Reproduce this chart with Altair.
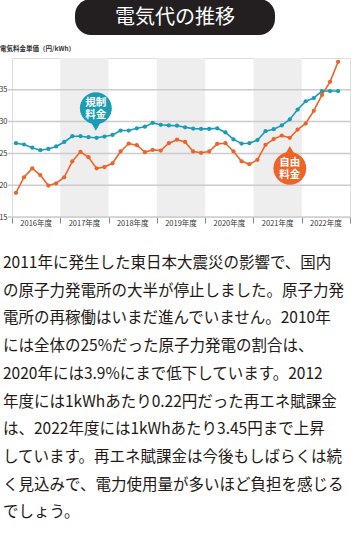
import altair as alt
import pandas as pd

# ---- data ----
months = [
    "2016-05-01", "2016-07-01", "2016-09-01", "2016-11-01", "2017-01-01", "2017-03-01",
    "2017-05-01", "2017-07-01", "2017-09-01", "2017-11-01", "2018-01-01", "2018-03-01",
    "2018-05-01", "2018-07-01", "2018-09-01", "2018-11-01", "2019-01-01", "2019-03-01",
    "2019-05-01", "2019-07-01", "2019-09-01", "2019-11-01", "2020-01-01", "2020-03-01",
    "2020-05-01", "2020-07-01", "2020-09-01", "2020-11-01", "2021-01-01", "2021-03-01",
    "2021-05-01", "2021-07-01", "2021-09-01", "2021-11-01", "2022-01-01", "2022-03-01",
    "2022-05-01", "2022-07-01", "2022-09-01", "2022-11-01", "2023-01-01",
]
regulated = [26.6, 26.4, 25.9, 25.5, 25.7, 26.1, 26.8, 27.7, 27.7, 27.55, 27.45, 27.65,
             27.9, 28.6, 28.6, 28.95, 29.2, 29.8, 29.5, 29.4, 29.35, 29.1, 28.9, 28.85,
             28.85, 28.95, 28.3, 27.2, 26.55, 26.6, 27.1, 28.5, 28.8, 29.4, 30.35, 31.9,
             33.2, 33.7, 34.8, 34.8, 34.8]
free = [18.8, 21.25, 22.65, 21.6, 19.95, 20.3, 21.25, 23.75, 25.25, 24.4, 22.65, 22.85,
        23.45, 25.3, 26.55, 26.3, 25.2, 25.55, 25.45, 26.6, 27.15, 26.8, 25.3, 25.1,
        25.3, 26.5, 26.6, 25.3, 23.75, 23.3, 24.0, 26.35, 27.25, 27.8, 27.45, 28.75,
        29.7, 31.7, 34.2, 36.25, 39.4]
series_names = ["規制料金", "自由料金"]
colors = ["#1a9cb4", "#ec6428"]

year_labels = ["2016年度", "2017年度", "2018年度", "2019年度", "2020年度", "2021年度", "2022年度"]
year_mids = ["2016-10-01", "2017-10-01", "2018-10-01", "2019-10-01", "2020-10-01", "2021-10-01", "2022-10-01"]
band_starts = ["2017-04-01", "2019-04-01", "2021-04-01"]
band_ends = ["2018-04-01", "2020-04-01", "2022-04-01"]
y_ticks = [15, 20, 25, 30, 35]

title_text = "電気代の推移"
y_title = "電気料金単価（円/kWh）"
teal_label = ["規制", "料金"]
orange_label = ["自由", "料金"]
paragraph = [
    "2011年に発生した東日本大震災の影響で、国内",
    "の原子力発電所の大半が停止しました。原子力発",
    "電所の再稼働はいまだ進んでいません。2010年",
    "には全体の25%だった原子力発電の割合は、",
    "2020年には3.9%にまで低下しています。2012",
    "年度には1kWhあたり0.22円だった再エネ賦課金",
    "は、2022年度には1kWhあたり3.45円まで上昇",
    "しています。再エネ賦課金は今後もしばらくは続",
    "く見込みで、電力使用量が多いほど負担を感じる",
    "でしょう。",
]

# callout anchors (data coordinates)
teal_call = {"date": "2017-12-26", "value": 32.1, "ptr": 29.15}
orange_call = {"date": "2022-01-01", "value": 22.65, "ptr": 25.6}

W, H = 338, 159
FONT = "Noto Sans CJK JP"

xscale = alt.Scale(type="utc", domain=[alt.DateTime(year=2016, month=4, date=1, utc=True),
                                       alt.DateTime(year=2023, month=4, date=1, utc=True)])
yscale = alt.Scale(domain=[15, 40], nice=False, zero=False)

xaxis = alt.Axis(values=[alt.DateTime(year=y, month=4, date=1, utc=True) for y in range(2016, 2024)],
                 labels=False, ticks=True, tickSize=6, tickColor="#888888", tickWidth=1,
                 domain=False, grid=False, title=None)
yaxis = alt.Axis(values=y_ticks, ticks=False, domain=False, grid=False, title=None,
                 labelFontSize=7.5, labelColor="#333333", labelPadding=5, labelFont=FONT)


def X(field):
    return alt.X(field, scale=xscale, axis=xaxis)


def Y(field):
    return alt.Y(field, scale=yscale, axis=yaxis)


df = pd.DataFrame({
    "date": months * 2,
    "series": [series_names[0]] * len(months) + [series_names[1]] * len(months),
    "value": regulated + free,
})

one = pd.DataFrame({"a": [0]})

bands = alt.Chart(pd.DataFrame({"start": band_starts, "end": band_ends})).mark_rect(
    color="#eeeeee").encode(
    x=X("start:T"), x2="end:T",
    y=alt.value(0), y2=alt.value(H))

grid = alt.Chart(pd.DataFrame({"v": y_ticks})).mark_rule(
    color="#cccccc", strokeWidth=1.5).encode(
    y=Y("v:Q"), x=alt.value(-4), x2=alt.value(W + 1))

lines = alt.Chart(df).mark_line(strokeWidth=1.6, point=alt.OverlayMarkDef(filled=True, size=18, opacity=1)).encode(
    x=X("date:T"),
    y=Y("value:Q"),
    color=alt.Color("series:N", scale=alt.Scale(domain=series_names, range=colors), legend=None),
)

xlabels = alt.Chart(pd.DataFrame({"mid": year_mids, "label": year_labels})).mark_text(
    fontSize=7.5, color="#333333", baseline="middle", font=FONT).encode(
    x=X("mid:T"), y=alt.value(H + 7), text="label:N")

ytitle = alt.Chart(one).mark_text(text=y_title, fontSize=6.5, fontWeight="bold", color="#333333",
                                  align="left", baseline="middle", font=FONT).encode(
    x=alt.value(-12), y=alt.value(-9))

pill = alt.Chart(one).mark_rect(cornerRadius=16, color="#231f20").encode(
    x=alt.value(63), x2=alt.value(263), y=alt.value(-59), y2=alt.value(-23))
pill_text = alt.Chart(one).mark_text(text=title_text, fontSize=20, color="white",
                                     baseline="middle", font=FONT).encode(
    x=alt.value(163), y=alt.value(-40))


def callout(c, color, shape, label, size):
    d = pd.DataFrame([c])
    base = alt.Chart(d)
    circ = base.mark_circle(size=size, color=color, opacity=1).encode(
        x=X("date:T"), y=Y("value:Q"))
    ptr = base.mark_point(shape=shape, filled=True, size=70, color=color, opacity=1).encode(
        x=X("date:T"), y=Y("ptr:Q"))
    txt = base.mark_text(text=label, fontSize=10.5, lineHeight=12, fontWeight="bold", color="white",
                         dy=-10.3, baseline="top", font=FONT).encode(
        x=X("date:T"), y=Y("value:Q"))
    return [ptr, circ, txt]


teal_layers = callout(teal_call, colors[0], "triangle-down", teal_label, 1018)
orange_layers = callout(orange_call, colors[1], "triangle-up", orange_label, 1075)

para = alt.Chart(one).mark_text(text=paragraph, fontSize=15.5, lineHeight=27.7, color="#231815",
                                align="left", baseline="top", font=FONT).encode(
    x=alt.value(-9), y=alt.value(198))

chart = alt.layer(
    bands, grid, lines, xlabels, ytitle, pill, pill_text, *teal_layers, *orange_layers, para
).properties(
    width=W, height=H,
    autosize=alt.AutoSizeParams(type="none"),
    padding={"left": 12, "top": 58, "right": 1, "bottom": 318},
    background="white",
).configure_view(stroke=None).configure(font=FONT)

chart.save("out.html", embed_options={"renderer": "svg", "actions": False})
